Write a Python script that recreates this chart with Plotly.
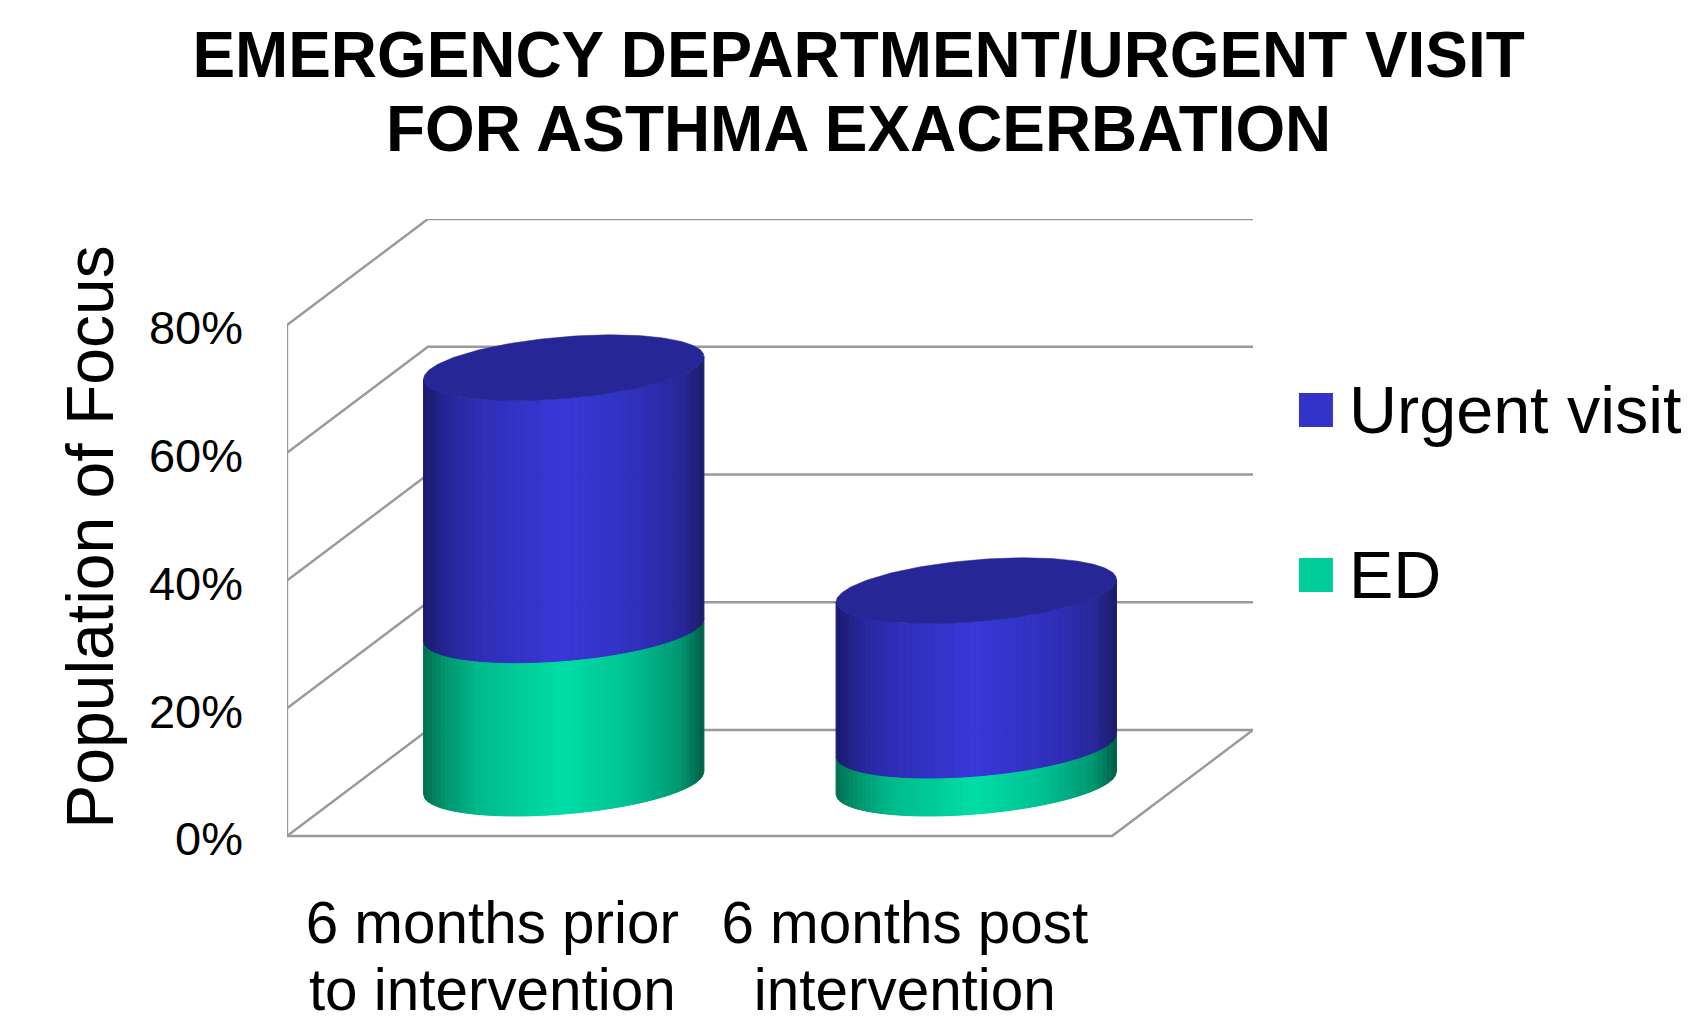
import numpy as np
import plotly.graph_objects as go

categories = ["6 months prior<br>to intervention", "6 months post<br>intervention"]
ed_values = [24.0, 5.95]
urgent_values = [41.0, 24.15]
y_ticks = [0, 20, 40, 60, 80]
title_text = "EMERGENCY DEPARTMENT/URGENT VISIT<br>FOR ASTHMA EXACERBATION"
y_title = "Population of Focus"
legend_labels = ["Urgent visit", "ED"]
legend_colors = ["#3333CC", "#00CC99"]

W, H = 1688, 1023
L, R_EDGE, TOP, BOTTOM = 286.5, 1253, 219, 855
FONT = "Liberation Sans"
# oblique depth of the chart box, in data units
DX, DY = 0.3416, 16.59
# cylinder ellipse vectors, in data units
RX, BX, BY = 0.3193, 0.1163, 5.16
TH0 = float(np.arctan2(BX, RX))
BASE = 0.0
DEPTH = 0.5

STOPS = [0, .08, .2, .5, .75, .92, 1]
BLUE = [(26, 26, 110), (37, 37, 150), (46, 46, 182), (56, 56, 216), (48, 48, 190), (40, 40, 155), (28, 28, 105)]
GREEN = [(0, 110, 80), (0, 150, 110), (0, 186, 140), (0, 222, 165), (0, 190, 145), (0, 150, 112), (0, 95, 70)]
TOP_COLOR = "#262696"
N = 64


def shade(t, ramp):
    c = [np.interp(t, STOPS, [s[i] for s in ramp]) for i in range(3)]
    return "rgb(%d,%d,%d)" % tuple(round(v) for v in c)


def front(cx, cy, u):
    th = TH0 + 2 * np.pi - np.arccos(u)
    return cx + RX * np.cos(th) + BX * np.sin(th), cy + BY * np.sin(th)


fig = go.Figure()

# chart box: grid lines on the wall, left edge and floor
gx, gy = [], []
for v in y_ticks:
    gx += [0, DX, 2 + DX, None]
    gy += [v, v + DY, v + DY, None]
gx += [0, 0, None, 0, 2, 2 + DX]
gy += [y_ticks[0], y_ticks[-1], None, 0, 0, DY]
fig.add_trace(go.Scatter(x=gx, y=gy, mode="lines", line=dict(color="#999999", width=2.4),
                         hoverinfo="skip", showlegend=False, cliponaxis=False))


def side(cx, y0, y1, ramp):
    edges = np.linspace(-1, 1, N + 1)
    for i in range(N):
        a, b = edges[i], edges[i + 1]
        us = np.linspace(a, b, 4)
        lo = [front(cx, y0, u) for u in us]
        hi = [front(cx, y1, u) for u in us[::-1]]
        xs = [p[0] for p in lo + hi]
        ys = [p[1] for p in lo + hi]
        col = shade((a + b) / 4 + 0.5, ramp)
        fig.add_trace(go.Scatter(x=xs + xs[:1], y=ys + ys[:1], mode="lines", fill="toself", fillcolor=col,
                                 line=dict(color=col, width=1), hoverinfo="skip", showlegend=False))


for i in range(len(categories)):
    cx = i + 0.5 + DEPTH * DX
    base = BASE + DEPTH * DY
    e, u = ed_values[i], urgent_values[i]
    side(cx, base, base + e, GREEN)
    side(cx, base + e, base + e + u, BLUE)
    th = np.linspace(0, 2 * np.pi, 181)
    xs = cx + RX * np.cos(th) + BX * np.sin(th)
    ys = base + e + u + BY * np.sin(th)
    fig.add_trace(go.Scatter(x=xs, y=ys, mode="lines", fill="toself", fillcolor=TOP_COLOR,
                             line=dict(color=TOP_COLOR, width=0.5), hoverinfo="skip", showlegend=False))

annotations = []
shapes = []
for name, col, yc in zip(legend_labels, legend_colors, [410, 575]):
    shapes.append(dict(type="rect", xref="paper", yref="paper", x0=(1299 - L) / (R_EDGE - L),
                       x1=(1333 - L) / (R_EDGE - L), y0=(BOTTOM - yc - 17) / (BOTTOM - TOP),
                       y1=(BOTTOM - yc + 17) / (BOTTOM - TOP), fillcolor=col, line=dict(width=0)))
    annotations.append(dict(text=name, xref="paper", yref="paper", x=(1347 - L) / (R_EDGE - L),
                            y=(BOTTOM - yc) / (BOTTOM - TOP), xanchor="left", yanchor="middle", showarrow=False,
                            font=dict(family=FONT, size=66.5, color="black")))

fig.update_layout(
    width=W, height=H, paper_bgcolor="white", plot_bgcolor="white", showlegend=False,
    margin=dict(l=L, r=W - R_EDGE, t=TOP, b=H - BOTTOM, autoexpand=False),
    title=dict(text="<b>" + title_text.replace("<br>", "</b><br><b>") + "</b>", xref="container", yref="container",
               x=858.6 / W, xanchor="center", y=1 - 77 / H, yanchor="top",
               font=dict(family=FONT, size=63.9, color="black")),
    xaxis=dict(range=[0, 2 + DX], tickmode="array", tickvals=[0.5, 1.5], ticktext=categories,
               showgrid=False, zeroline=False, showline=False, ticks="", ticklabelstandoff=29, ticklabelshift=-1,
               tickfont=dict(family=FONT, size=58.4, color="black"), automargin=False),
    yaxis=dict(range=[-(BOTTOM - 836) / 6.39, 96.59], tickmode="array", tickvals=y_ticks,
               ticktext=[f"{v}%" for v in y_ticks], showgrid=False, zeroline=False, showline=False, ticks="",
               ticklabelstandoff=43, ticklabelshift=3, tickfont=dict(family=FONT, size=47, color="black"),
               automargin=False,
               title=dict(text=y_title, standoff=13, font=dict(family=FONT, size=66, color="black"))),
    annotations=annotations, shapes=shapes,
)

post = """
document.body.style.margin = '0';
document.querySelectorAll('.gtitle tspan.line, .xtick tspan.line').forEach(function (t) {
  if (parseFloat(t.getAttribute('dy') || '0') > 0) { t.setAttribute('dy', t.closest('.gtitle') ? '1.16em' : '1.14em'); }
});
"""
fig.write_html("out.html", post_script=post, config=dict(displayModeBar=False))
